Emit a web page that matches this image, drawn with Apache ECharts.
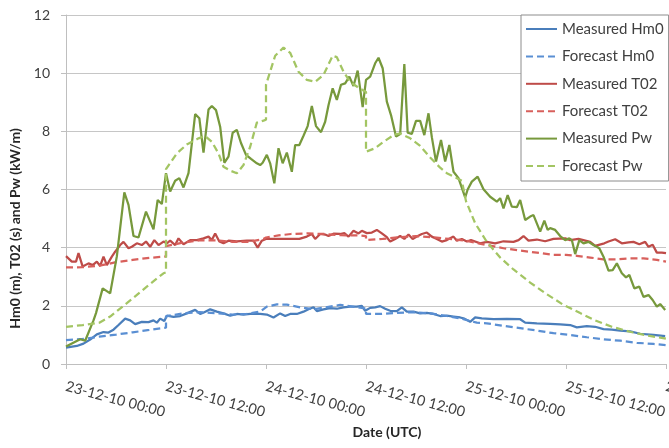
<!DOCTYPE html>
<html>
<head>
<meta charset="utf-8">
<script src="https://cdn.jsdelivr.net/npm/echarts@6/dist/echarts.min.js"></script>
<style>
html,body{margin:0;padding:0;background:#fff;}
#chart{width:669px;height:448px;}
</style>
</head>
<body>
<div id="chart"></div>
<script>
// x values are hours after 23-12-10 00:00 (UTC)
const xTickLabels = ['23-12-10 00:00','23-12-10 12:00','24-12-10 00:00','24-12-10 12:00','25-12-10 00:00','25-12-10 12:00','26-12-10 00:00'];
const seriesNames = ['Measured Hm0','Forecast Hm0','Measured T02','Forecast T02','Measured Pw','Forecast Pw'];

const measuredHm0 = [[0,0.56],[1.3,0.62],[2.1,0.7],[2.9,0.84],[3.7,1.02],[4.5,1.1],[5.1,1.08],[5.7,1.18],[6.3,1.34],[7.1,1.56],[7.7,1.5],[8.3,1.37],[9.1,1.45],[9.9,1.44],[10.5,1.5],[10.9,1.42],[11.3,1.56],[11.8,1.48],[12.1,1.66],[12.9,1.62],[13.7,1.65],[14.5,1.74],[15.5,1.86],[16.1,1.72],[16.6,1.78],[17.3,1.88],[18.1,1.8],[18.9,1.74],[19.7,1.66],[20.5,1.72],[21.3,1.7],[22.1,1.72],[23.3,1.72],[24.1,1.7],[24.9,1.6],[25.7,1.74],[26.3,1.65],[26.9,1.72],[27.7,1.72],[28.5,1.8],[29.1,1.88],[29.7,1.95],[30.1,1.82],[30.9,1.88],[31.7,1.92],[32.5,1.9],[33.3,1.95],[34.1,1.97],[34.9,1.97],[35.5,2.0],[35.9,1.83],[36.5,1.93],[37.1,1.95],[37.7,1.99],[38.3,1.9],[38.9,1.83],[39.7,1.82],[40.3,1.95],[40.9,1.8],[41.7,1.8],[42.5,1.74],[43.3,1.76],[44.1,1.72],[44.9,1.65],[45.7,1.66],[46.5,1.63],[47.3,1.6],[47.7,1.57],[48.5,1.45],[49.1,1.6],[49.9,1.57],[51.3,1.54],[52.9,1.55],[54.5,1.54],[55.1,1.42],[56.5,1.4],[58.1,1.38],[59.3,1.36],[60.5,1.34],[61.3,1.26],[62.5,1.3],[63.5,1.28],[64.5,1.2],[65.5,1.18],[66.5,1.15],[67.7,1.12],[68.9,1.04],[70.5,1.0],[71.9,0.96]];

const forecastHm0 = [[0,0.82],[2,0.86],[4,0.94],[6,1.01],[8,1.09],[10,1.17],[11.7,1.24],[12,1.25],[12,1.64],[14,1.74],[16,1.78],[18,1.75],[20,1.7],[21.7,1.72],[23.3,1.8],[24.1,1.97],[25.3,2.05],[26.5,2.04],[28.1,1.95],[29.7,1.88],[32.9,2.03],[35.7,1.92],[36,1.9],[36,1.72],[37.7,1.72],[39.7,1.76],[41.7,1.78],[43.7,1.74],[45.7,1.65],[47.7,1.54],[49.3,1.42],[50.5,1.4],[52.5,1.31],[54.5,1.23],[56.5,1.15],[58.5,1.06],[60.5,1.0],[62.5,0.92],[64.5,0.85],[66.5,0.8],[68.5,0.73],[70.5,0.69],[72,0.65]];

const measuredT02 = [[0,3.71],[0.7,3.52],[1.2,3.52],[1.5,3.81],[2.0,3.35],[2.7,3.46],[3.2,3.4],[3.7,3.52],[4.1,3.37],[4.5,3.69],[4.9,3.4],[5.5,3.69],[5.9,3.86],[6.5,4.09],[6.9,4.2],[7.5,3.98],[7.9,4.03],[8.5,4.15],[9.1,4.09],[9.6,4.21],[10.1,4.03],[10.6,4.26],[11.1,4.09],[11.7,4.21],[12.1,4.15],[12.5,4.24],[13.1,4.09],[13.5,4.32],[14.1,4.12],[14.9,4.26],[15.7,4.26],[16.5,4.32],[17.1,4.38],[17.5,4.26],[17.9,4.49],[18.4,4.21],[18.9,4.15],[19.5,4.24],[20.5,4.22],[21.7,4.24],[22.5,4.24],[23.0,4.0],[23.5,4.24],[24.0,4.3],[25,4.3],[26,4.3],[27,4.3],[28,4.3],[28.9,4.38],[29.5,4.47],[29.9,4.3],[30.5,4.47],[31.1,4.45],[31.5,4.4],[32.1,4.48],[32.9,4.47],[33.4,4.5],[33.9,4.38],[34.5,4.58],[35.1,4.49],[35.5,4.58],[36.1,4.5],[36.7,4.52],[37.3,4.61],[37.9,4.49],[38.5,4.36],[38.9,4.21],[39.5,4.3],[40.1,4.4],[40.6,4.3],[41.1,4.45],[41.6,4.3],[42.1,4.38],[42.7,4.47],[43.3,4.52],[43.9,4.38],[44.5,4.3],[45.1,4.21],[45.7,4.26],[46.5,4.38],[46.9,4.24],[47.5,4.3],[48.1,4.21],[48.6,4.26],[49.7,4.15],[50.5,4.2],[51.5,4.15],[52.5,4.22],[53.7,4.2],[54.3,4.26],[54.9,4.4],[55.5,4.24],[56.5,4.28],[57.5,4.22],[58.5,4.3],[59.9,4.32],[60.5,4.26],[61.5,4.3],[62.9,4.2],[63.5,4.06],[64.6,4.15],[65.1,4.21],[65.9,4.29],[66.7,4.15],[67.5,4.18],[68.1,4.2],[68.8,4.12],[69.5,4.2],[69.9,4.03],[70.4,4.1],[70.9,3.83],[71.5,3.83],[72,3.81]];

const forecastT02 = [[0,3.32],[2,3.33],[4,3.38],[6,3.5],[8,3.58],[10,3.65],[11.7,3.69],[12,3.7],[12,4.05],[14,4.17],[16,4.25],[18,4.25],[20,4.2],[22,4.2],[23.7,4.3],[24,4.35],[25.5,4.42],[27,4.47],[29,4.49],[31,4.47],[33,4.43],[35,4.42],[36,4.4],[36,4.26],[38,4.3],[40,4.36],[42,4.4],[44,4.36],[46,4.3],[48,4.24],[49.5,4.15],[50.5,4.09],[52.5,3.98],[54.5,3.9],[56.5,3.83],[58.5,3.75],[60,3.75],[61.3,3.72],[62.9,3.66],[64.5,3.6],[66.1,3.6],[67.7,3.63],[69.3,3.63],[70.9,3.58],[72,3.52]];

const measuredPw = [[0,0.6],[1.7,0.85],[2.3,0.8],[3.3,1.5],[3.6,1.75],[4.4,2.6],[5.3,2.43],[6.1,3.7],[7.0,5.9],[7.5,5.47],[8.1,4.4],[8.7,4.35],[9.6,5.24],[10.5,4.63],[11.0,5.64],[11.5,5.5],[12.0,6.56],[12.5,5.93],[13.1,6.3],[13.6,6.39],[14.1,6.07],[14.7,6.56],[15.5,8.59],[16.0,8.45],[16.5,7.27],[17.1,8.75],[17.5,8.87],[18.0,8.73],[18.5,8.16],[19.0,6.92],[19.5,7.13],[20.0,7.95],[20.5,8.05],[21.0,7.6],[21.6,7.19],[22.2,7.05],[22.9,6.9],[23.3,6.84],[23.6,6.92],[24.1,7.19],[24.5,6.9],[25.0,6.21],[25.5,7.42],[26.0,6.9],[26.5,7.27],[27.1,6.61],[27.5,7.53],[28.0,7.53],[28.5,7.85],[29.0,8.18],[29.5,8.87],[30.0,8.18],[30.6,7.97],[31.1,8.33],[31.5,8.9],[32.0,9.48],[32.5,9.08],[33.0,9.6],[33.5,9.65],[34.0,9.88],[34.5,9.56],[35.0,10.09],[35.6,8.83],[36.0,9.77],[36.5,9.88],[37.1,10.34],[37.5,10.53],[38.0,10.17],[38.5,9.02],[39.0,8.56],[39.6,7.82],[40.1,7.91],[40.6,10.31],[41.0,7.95],[41.5,7.91],[42.0,8.36],[42.5,8.36],[43.0,7.87],[43.5,8.62],[43.9,7.8],[44.4,6.96],[45.0,7.7],[45.5,6.96],[46.0,7.53],[46.5,6.61],[47.1,6.39],[47.9,5.73],[48.2,6.0],[48.7,6.27],[49.4,6.44],[50.1,6.01],[50.9,5.75],[51.7,5.58],[52.1,5.7],[52.5,5.35],[53.0,5.81],[53.5,5.41],[54.1,5.39],[54.5,5.64],[55.1,4.95],[55.7,5.07],[56.1,5.12],[56.9,4.55],[57.4,4.93],[57.8,4.61],[58.1,4.67],[58.7,4.61],[59.3,4.4],[59.9,4.26],[60.4,4.32],[60.7,4.26],[61.1,3.78],[61.6,4.26],[62.1,4.15],[62.7,4.2],[63.3,4.09],[64.0,3.98],[64.5,3.69],[65.1,3.21],[65.6,3.23],[66.1,3.46],[66.7,3.12],[67.2,2.98],[67.6,3.06],[68.2,2.6],[68.8,2.66],[69.3,2.31],[69.9,2.37],[70.4,2.2],[70.9,1.97],[71.3,2.06],[71.9,1.86]];

const forecastPw = [[0,1.28],[2,1.34],[4,1.42],[5.3,1.63],[7.3,2.09],[9.7,2.66],[11.7,3.12],[12,3.15],[12,6.7],[13.3,7.24],[14.5,7.55],[15.9,7.76],[16.7,7.84],[17.5,7.64],[18.3,7.24],[18.9,6.78],[19.7,6.65],[20.5,6.56],[21.3,6.84],[22.1,7.47],[22.9,8.3],[23.7,8.37],[24,8.4],[24,9.6],[25.1,10.6],[26.1,10.88],[26.9,10.7],[27.9,10.05],[28.9,9.77],[29.9,9.7],[30.9,9.94],[32,10.6],[32.5,10.55],[33.3,10.05],[34.1,9.7],[35.1,9.5],[36,9.35],[36,7.3],[37.1,7.42],[38.1,7.64],[39.3,7.87],[40.1,7.93],[41.3,7.76],[42.5,7.5],[43.7,7.1],[44.9,6.75],[45.7,6.56],[46.7,6.42],[47.5,6.3],[48,5.6],[49.1,4.84],[50.5,4.2],[52.1,3.66],[53.7,3.25],[55.7,2.8],[57.7,2.4],[59.6,2.05],[61.7,1.75],[63.5,1.5],[65.5,1.28],[67.8,1.1],[69.8,0.98],[72,0.87]];

const seriesData = [measuredHm0, forecastHm0, measuredT02, forecastT02, measuredPw, forecastPw];
const seriesColors = ['#4a7ebb', '#5a8fd3', '#be4b48', '#d8605c', '#77993c', '#a3c563'];
const seriesDashed = [false, true, false, true, false, true];

const FONT = 'Lato, "Open Sans", sans-serif';
const chart = echarts.init(document.getElementById('chart'), null, {renderer: 'canvas'});

chart.setOption({
  animation: false,
  backgroundColor: '#ffffff',
  textStyle: {fontFamily: FONT},
  grid: {left: 66, right: 3, top: 15, bottom: 84, containLabel: false, outerBoundsMode: 'none'},
  legend: {
    orient: 'vertical',
    left: 521,
    top: 15,
    padding: [6, 5, 7, 4],
    itemWidth: 31,
    itemHeight: 16,
    itemGap: 11.4,
    itemTextGap: 3,
    backgroundColor: '#ffffff',
    borderColor: '#8c8c8c',
    borderWidth: 1,
    borderRadius: 0,
    itemStyle: {color: 'transparent', borderWidth: 0, opacity: 0},
    textStyle: {fontFamily: FONT, fontSize: 15, color: '#404040', lineHeight: 16},
    data: seriesNames
  },
  xAxis: {
    type: 'value',
    min: 0,
    max: 72,
    interval: 12,
    name: 'Date (UTC)',
    nameLocation: 'middle',
    nameGap: 60,
    nameTextStyle: {fontFamily: FONT, fontSize: 14, fontWeight: 'bold', color: '#262626', padding: [0, 0, 0, 42]},
    axisLine: {show: true, lineStyle: {color: '#bfbfbf', width: 1}},
    axisTick: {show: true, length: 5, lineStyle: {color: '#bfbfbf'}},
    splitLine: {show: false},
    axisLabel: {
      rotate: -15,
      margin: 22,
      fontFamily: FONT,
      fontSize: 14.5,
      color: '#404040',
      showMinLabel: true,
      showMaxLabel: true,
      formatter: function (v) { return xTickLabels[Math.round(v / 12)]; }
    }
  },
  yAxis: {
    type: 'value',
    min: 0,
    max: 12,
    interval: 2,
    name: 'Hm0 (m), T02 (s) and Pw (kW/m)',
    nameLocation: 'middle',
    nameGap: 42,
    nameTextStyle: {fontFamily: FONT, fontSize: 14, fontWeight: 'bold', color: '#262626', padding: [0, 78, 0, 0]},
    axisLine: {show: true, lineStyle: {color: '#bfbfbf', width: 1}},
    axisTick: {show: true, length: 5, lineStyle: {color: '#bfbfbf'}},
    splitLine: {show: true, lineStyle: {color: '#c6c6c6', width: 1}},
    axisLabel: {margin: 16, fontFamily: FONT, fontSize: 14, color: '#404040'}
  },
  series: seriesNames.map(function (name, i) {
    return {
      name: name,
      type: 'line',
      data: seriesData[i],
      symbol: 'none',
      showSymbol: false,
      smooth: false,
      color: seriesColors[i],
      lineStyle: {color: seriesColors[i], width: 2.25, type: seriesDashed[i] ? [7, 4] : 'solid'},
      z: 2 + i
    };
  })
});
</script>
</body>
</html>
